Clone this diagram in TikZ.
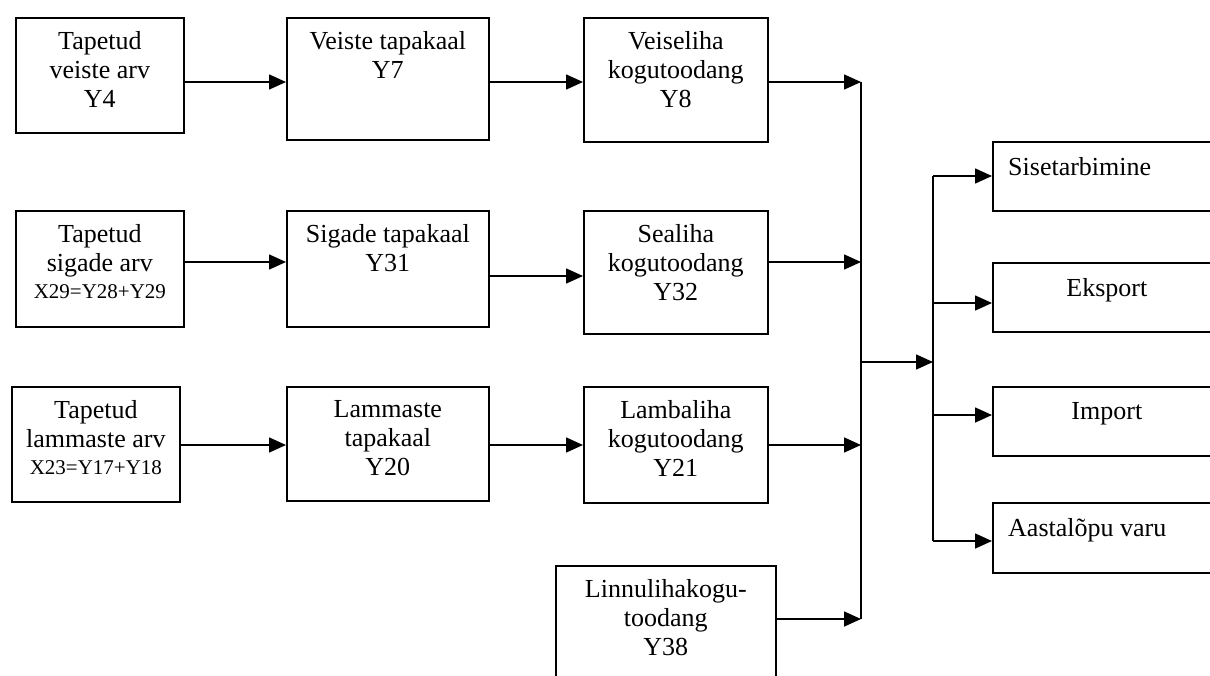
\documentclass[tikz,border=0pt]{standalone}
\usepackage{fontspec}
\setmainfont{Liberation Serif}
\usepackage{tikz}
\usetikzlibrary{arrows.meta,positioning}
\newcommand{\smalleq}[1]{{\fontsize{21}{25}\selectfont #1}}

\begin{document}
\begin{tikzpicture}[x=1pt,y=-1pt,
  box/.style={draw,line width=1.7pt,inner sep=0,anchor=north west},
  txt/.style={align=center,inner sep=0,font=\fontsize{26}{29}\selectfont},
  arr/.style={-{Triangle[length=17pt,width=15pt]},line width=1.6pt},
  bus/.style={line width=1.6pt}]
  \useasboundingbox (0,0) rectangle (1210,675);
  \clip (0,0) rectangle (1210,675);
  \coordinate (y1) at (0,82);   \coordinate (y2) at (0,262);
  \coordinate (y2b) at (0,276); \coordinate (y3) at (0,445);
  \coordinate (y4) at (0,619);  \coordinate (ymid) at (0,362);
  \coordinate (o1) at (0,176);  \coordinate (o2) at (0,303);
  \coordinate (o3) at (0,415);  \coordinate (o4) at (0,541);
  \coordinate (bus1) at (861,0);
  \coordinate (bus2) at (933,0);
  % veised
  \node[box,minimum width=168pt,minimum height=115pt] (veis) at (15,17) {};
  \node[box,minimum width=202pt,minimum height=122pt] (veistap) at (286,17) {};
  \node[box,minimum width=184pt,minimum height=124pt] (veisliha) at (583,17) {};
  \node[txt,below=14pt of veis.north] (tveis) {Tapetud\\veiste arv\\Y4};
  \node[txt,below=14pt of veistap.north] (tveistap) {Veiste tapakaal\\Y7};
  \node[txt,below=14pt of veisliha.north] (tveisliha) {Veiseliha\\kogutoodang\\Y8};
  % sead
  \node[box,minimum width=168pt,minimum height=116pt] (siga) at (15,210) {};
  \node[box,minimum width=202pt,minimum height=116pt] (sigtap) at (286,210) {};
  \node[box,minimum width=184pt,minimum height=123pt] (sealiha) at (583,210) {};
  \node[txt,below=14pt of siga.north] (tsiga) {Tapetud\\sigade arv\\[-2pt]\smalleq{X29=Y28+Y29}};
  \node[txt,below=14pt of sigtap.north] (tsigtap) {Sigade tapakaal\\Y31};
  \node[txt,below=14pt of sealiha.north] (tsealiha) {Sealiha\\kogutoodang\\Y32};
  % lambad
  \node[box,minimum width=168pt,minimum height=115pt] (lammas) at (11,386) {};
  \node[box,minimum width=202pt,minimum height=114pt] (lamtap) at (286,386) {};
  \node[box,minimum width=184pt,minimum height=116pt] (lambaliha) at (583,386) {};
  \node[txt,below=14pt of lammas.north] (tlammas) {Tapetud\\lammaste arv\\[-2pt]\smalleq{X23=Y17+Y18}};
  \node[txt,below=14pt of lamtap.north] (tlamtap) {Lammaste\\tapakaal\\Y20};
  \node[txt,below=14pt of lambaliha.north] (tlambaliha) {Lambaliha\\kogutoodang\\Y21};
  % linnud
  \node[box,minimum width=220pt,minimum height=130pt] (linnuliha) at (555,565) {};
  \node[txt,below=14pt of linnuliha.north] (tlinnuliha) {Linnulihakogu-\\toodang\\Y38};
  % kasutus
  \node[box,minimum width=260pt,minimum height=69pt] (sise) at (992,141) {};
  \node[box,minimum width=260pt,minimum height=69pt] (eksp) at (992,262) {};
  \node[box,minimum width=260pt,minimum height=69pt] (imp) at (992,386) {};
  \node[box,minimum width=260pt,minimum height=70pt] (varu) at (992,502) {};
  \node[txt,anchor=north west] (tsise) at ([xshift=16pt,yshift=-16pt]sise.north west) {Sisetarbimine};
  \node[txt,anchor=north] (teksp) at ([xshift=-16pt,yshift=-16pt]eksp.north) {Eksport};
  \node[txt,anchor=north] (timp) at ([xshift=-16pt,yshift=-16pt]imp.north) {Import};
  \node[txt,anchor=north west] (tvaru) at ([xshift=16pt,yshift=-16pt]varu.north west) {Aastalõpu varu};

  \draw[arr] (veis.east |- y1) -- (veistap.west |- y1);
  \draw[arr] (veistap.east |- y1) -- (veisliha.west |- y1);
  \draw[arr] (veisliha.east |- y1) -- (bus1 |- y1);
  \draw[arr] (siga.east |- y2) -- (sigtap.west |- y2);
  \draw[arr] (sigtap.east |- y2b) -- (sealiha.west |- y2b);
  \draw[arr] (sealiha.east |- y2) -- (bus1 |- y2);
  \draw[arr] (lammas.east |- y3) -- (lamtap.west |- y3);
  \draw[arr] (lamtap.east |- y3) -- (lambaliha.west |- y3);
  \draw[arr] (lambaliha.east |- y3) -- (bus1 |- y3);
  \draw[arr] (linnuliha.east |- y4) -- (bus1 |- y4);
  \draw[bus] (bus1 |- y1) -- (bus1 |- y4);
  \draw[arr] (bus1 |- ymid) -- (bus2 |- ymid);
  \draw[bus] (bus2 |- o1) -- (bus2 |- o4);
  \draw[arr] (bus2 |- o1) -- (sise.west |- o1);
  \draw[arr] (bus2 |- o2) -- (eksp.west |- o2);
  \draw[arr] (bus2 |- o3) -- (imp.west |- o3);
  \draw[arr] (bus2 |- o4) -- (varu.west |- o4);
\end{tikzpicture}
\end{document}
